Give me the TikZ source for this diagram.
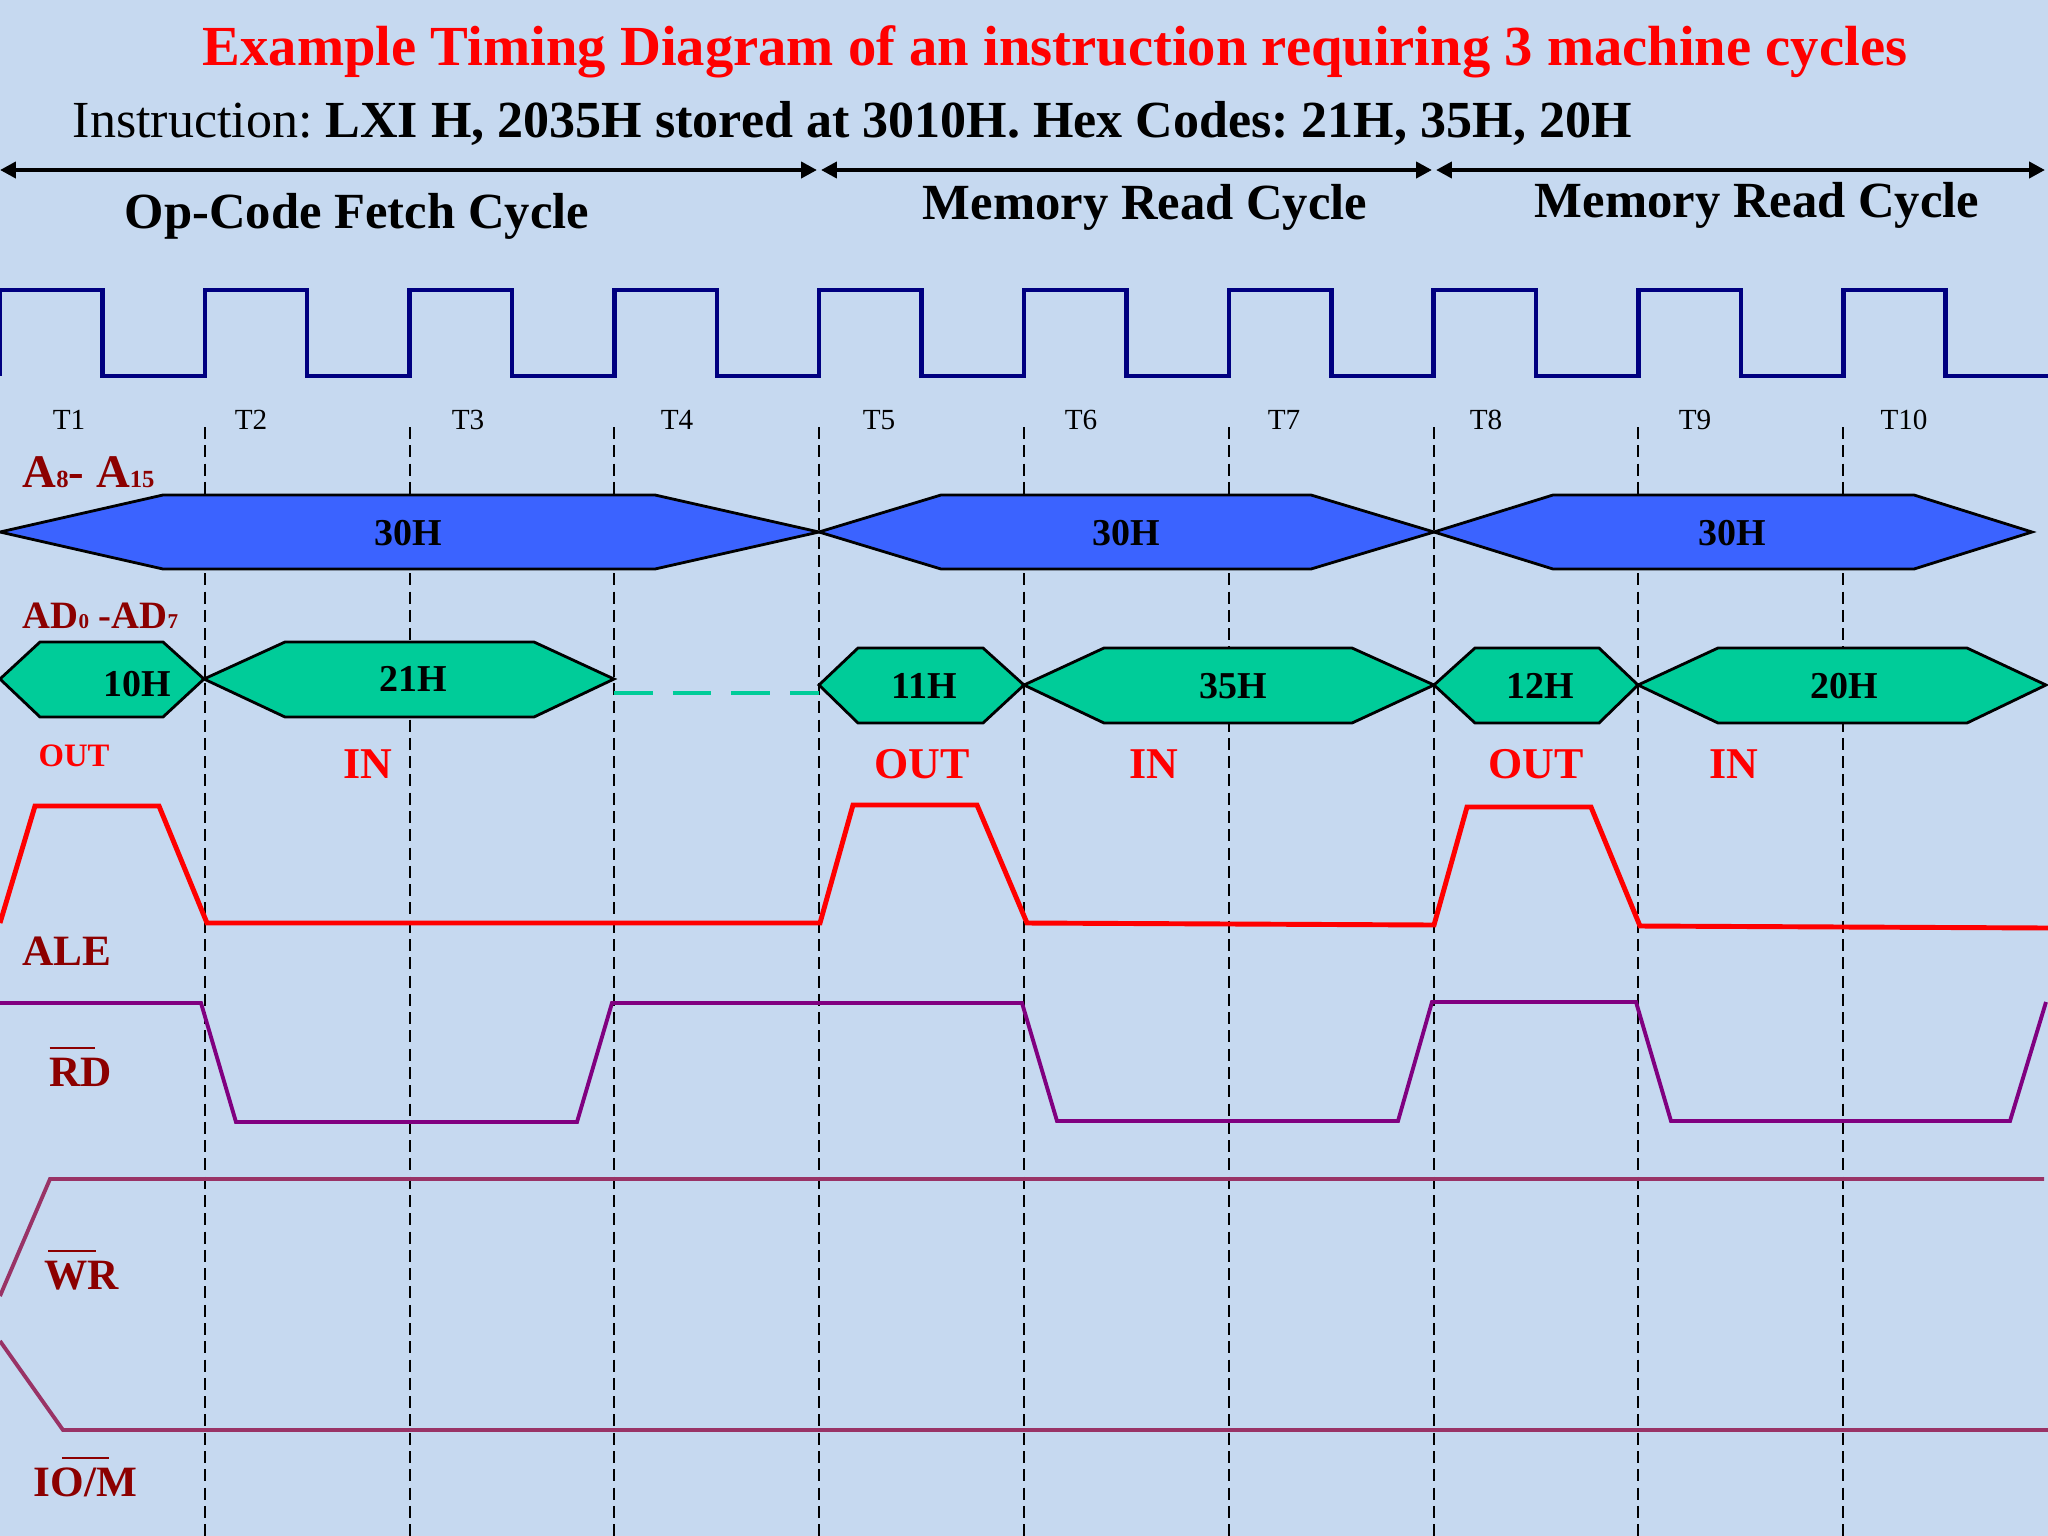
\documentclass[tikz,border=0pt]{standalone}
\usepackage{fontspec}
\setmainfont{Liberation Serif}
\usetikzlibrary{arrows.meta}
\definecolor{bgblue}{RGB}{198,217,240}
\definecolor{clkblue}{RGB}{0,0,128}
\definecolor{busblue}{RGB}{59,99,255}
\definecolor{busgreen}{RGB}{0,204,153}
\definecolor{sigred}{RGB}{140,0,0}
\definecolor{rdpurple}{RGB}{128,0,128}
\definecolor{wrmauve}{RGB}{153,51,102}
\newcommand{\barline}[2]{\rlap{\kern#1\rule[0.85em]{#2}{0.06em}}}
\newcommand{\smalldig}[2]{{\fontsize{#1}{#1}\selectfont #2}}

\begin{document}
\frenchspacing
\begin{tikzpicture}[x=0.01cm,y=-0.01cm]
		\tikzstyle{every node}=[inner sep=0pt, anchor=base]
		\tikzstyle{tstate}=[font=\fontsize{8.3}{10}\selectfont]
		\tikzstyle{signame}=[anchor=base west, text=sigred, font=\fontsize{12.3}{14}\selectfont\bfseries]
		\tikzstyle{buslbl}=[anchor=center, font=\fontsize{10.8}{13}\selectfont\bfseries]
		\tikzstyle{dirlbl}=[text=red, font=\fontsize{12.5}{15}\selectfont\bfseries]
		\tikzstyle{cyclelbl}=[font=\fontsize{14.4}{17}\selectfont\bfseries]
		\tikzstyle{cyclearrow}=[line width=1.2pt, {Triangle[length=4.5pt,width=4.5pt]}-{Triangle[length=4.5pt,width=4.5pt]}]
		\tikzstyle{tline}=[line width=0.55pt, dash pattern=on 3.4pt off 1.8pt]
		\tikzstyle{abus}=[fill=busblue, draw=black, line width=0.8pt]
		\tikzstyle{dbus}=[fill=busgreen, draw=black, line width=0.8pt]
		\fill[bgblue] (0,0) rectangle (2048,1536);
		\useasboundingbox (0,0) rectangle (2048,1536);
		% headings
		\node[text=red, font=\fontsize{16.1}{19}\selectfont\bfseries] (title) at (1055,65) {Example Timing Diagram of an instruction requiring 3 machine cycles};
		\node[anchor=base west, font=\fontsize{14.8}{18}\selectfont] (instr) at (72,137) {Instruction: \textbf{LXI H, 2035H stored at 3010H. Hex Codes: 21H, 35H, 20H}};
		\coordinate (c0) at (0,170);
		\coordinate (c1) at (817,170);
		\coordinate (c2) at (821,170);
		\coordinate (c3) at (1432,170);
		\coordinate (c4) at (1436,170);
		\coordinate (c5) at (2045,170);
		\draw[cyclearrow] (c0)--(c1);
		\draw[cyclearrow] (c2)--(c3);
		\draw[cyclearrow] (c4)--(c5);
		\node[cyclelbl] (opfetch) at (357,228) {Op-Code Fetch Cycle};
		\node[cyclelbl] (memrd1) at (1145,219) {Memory Read Cycle};
		\node[cyclelbl] (memrd2) at (1757,217) {Memory Read Cycle};
		% clock
		\draw[clkblue, line width=1.3pt] (0,376)--(0,290)
			\foreach \k in {0,...,8}{--({\k*204.8+102.4},290)--({\k*204.8+102.4},376)--({(\k+1)*204.8},376)--({(\k+1)*204.8},290)}
			--(1945.6,290)--(1945.6,376)--(2048,376);
		\foreach \t/\x in {1/69,2/251,3/468,4/677,5/879,6/1081,7/1284,8/1486,9/1695,10/1904}
			\node[tstate] (t\t) at (\x,429) {T\t};
		\foreach \k in {1,...,9}
			\draw[tline] ({\k*204.8},427)--({\k*204.8},1536);
		% address bus A8-A15
		\node[signame, font=\fontsize{13.3}{16}\selectfont\bfseries] (ahigh) at (22,487) {A\smalldig{7}{8}- A\smalldig{7}{15}};
		\filldraw[abus] (0,532)--(163,495)--(655,495)--(819,532)--(655,569)--(163,569)--cycle;
		\filldraw[abus] (819,532)--(941,495)--(1311,495)--(1434,532)--(1311,569)--(941,569)--cycle;
		\filldraw[abus] (1434,532)--(1553,495)--(1914,495)--(2032,532)--(1914,569)--(1553,569)--cycle;
		\node[buslbl] (a1) at (408,533) {30H};
		\node[buslbl] (a2) at (1126,533) {30H};
		\node[buslbl] (a3) at (1732,533) {30H};
		% data bus AD0-AD7
		\node[signame, font=\fontsize{11}{13}\selectfont\bfseries] (adlow) at (22,628) {AD\smalldig{6}{0} -AD\smalldig{6}{7}};
		\filldraw[dbus] (0,679)--(40,642)--(163,642)--(204,679)--(163,717)--(40,717)--cycle;
		\filldraw[dbus] (204,679)--(285,642)--(534,642)--(614,679)--(534,717)--(285,717)--cycle;
		\draw[busgreen, line width=1.4pt, dash pattern=on 11pt off 5.7pt] (614,693)--(819,693);
		\filldraw[dbus] (819,685)--(858,648)--(983,648)--(1024,685)--(983,723)--(858,723)--cycle;
		\filldraw[dbus] (1024,685)--(1104,648)--(1352,648)--(1434,685)--(1352,723)--(1104,723)--cycle;
		\filldraw[dbus] (1434,685)--(1475,648)--(1599,648)--(1638,685)--(1599,723)--(1475,723)--cycle;
		\filldraw[dbus] (1638,685)--(1718,648)--(1967,648)--(2046,685)--(1967,723)--(1718,723)--cycle;
		\node[buslbl] (d1) at (137,684) {10H};
		\node[buslbl] (d2) at (413,679) {21H};
		\node[buslbl] (d3) at (924,686) {11H};
		\node[buslbl] (d4) at (1233,686) {35H};
		\node[buslbl] (d5) at (1540,686) {12H};
		\node[buslbl] (d6) at (1844,686) {20H};
		\node[dirlbl, font=\fontsize{9.3}{11}\selectfont\bfseries] (out1) at (74,766) {OUT};
		\node[dirlbl] (in1) at (368,778) {IN};
		\node[dirlbl] (out2) at (922,778) {OUT};
		\node[dirlbl] (in2) at (1154,778) {IN};
		\node[dirlbl] (out3) at (1536,778) {OUT};
		\node[dirlbl] (in3) at (1734,778) {IN};
		% control signals
		\draw[red, line width=1.4pt] (0,923)--(35,806)--(159,806)--(207,923)--(820,923)--(853,805)--(977,805)--(1027,923)--(1434,925)--(1467,807)--(1591,807)--(1640,926)--(2048,928);
		\node[signame] (ale) at (22,965) {ALE};
		\draw[rdpurple, line width=1.1pt] (0,1003)--(201,1003)--(236,1122)--(577,1122)--(612,1003)--(1022,1003)--(1057,1121)--(1398,1121)--(1432,1002)--(1636,1002)--(1671,1121)--(2010,1121)--(2046,1002);
		\node[signame] (rd) at (49,1086) {\barline{0em}{1.05em}RD};
		\draw[wrmauve, line width=1.1pt] (0,1296)--(50,1179)--(2044,1179);
		\node[signame] (wr) at (44,1289) {\barline{0.08em}{1.1em}WR};
		\draw[wrmauve, line width=1.1pt] (0,1341)--(63,1430)--(2048,1430);
		\node[signame] (iom) at (33,1496) {I\barline{0.26em}{1.1em}O/M};
	\end{tikzpicture}
\end{document}
